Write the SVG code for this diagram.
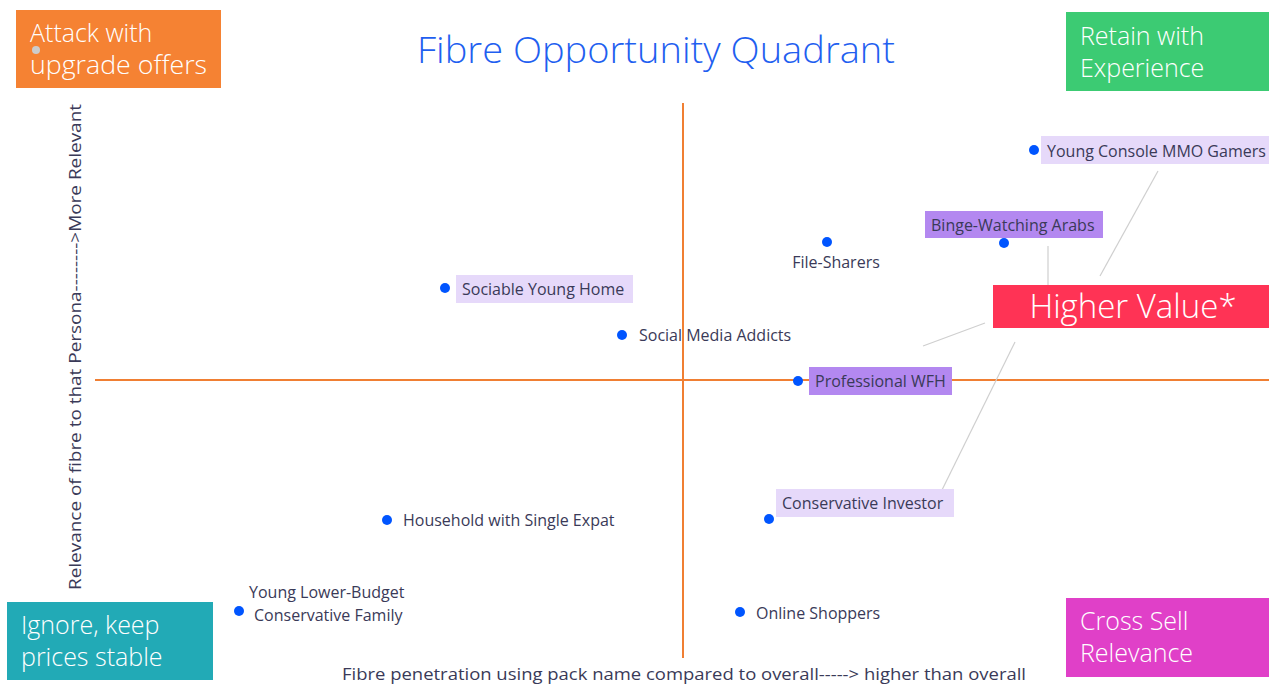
<svg xmlns="http://www.w3.org/2000/svg" width="1269" height="684" viewBox="0 0 1269 684">
<style>
text{font-family:"Open Sans","Noto Sans","Liberation Sans",sans-serif;}
.q{fill:#fff;font-size:25px;font-weight:300;}
.lbl{fill:#3a3a58;font-size:16px;}
.dot{fill:#0055ff;}
.ax{stroke:#f07f33;stroke-width:2;fill:none;}
.cn{stroke:#cfcfcf;stroke-width:1.2;fill:none;}
.pale{fill:#e6d9fa;}
.vio{fill:#b388f0;}
</style>
<rect width="1269" height="684" fill="#fff"/>
<g id="axes">
<line class="ax" x1="95" y1="380" x2="1269" y2="380"/>
<line class="ax" x1="683" y1="103" x2="683" y2="658"/>
</g>
<g id="title"><text x="656" y="63" text-anchor="middle" font-size="37" font-weight="300" fill="#1f5ff0" textLength="478" lengthAdjust="spacingAndGlyphs">Fibre Opportunity Quadrant</text></g>
<g id="q-attack">
<rect x="16" y="10" width="205" height="78" fill="#f58233"/>
<text class="q" x="30" y="42">Attack with</text>
<text class="q" x="30" y="74" textLength="177" lengthAdjust="spacingAndGlyphs">upgrade offers</text>
<circle cx="36" cy="50" r="4" fill="#cccccc"/>
</g>
<g id="q-retain">
<rect x="1066" y="12" width="203" height="79" fill="#3ccb73"/>
<text class="q" x="1080" y="45">Retain with</text>
<text class="q" x="1080" y="77">Experience</text>
</g>
<g id="q-ignore">
<rect x="7" y="602" width="206" height="78" fill="#22aab6"/>
<text class="q" x="21" y="634">Ignore, keep</text>
<text class="q" x="21" y="666">prices stable</text>
</g>
<g id="q-cross">
<rect x="1066" y="598" width="203" height="79" fill="#e040c8"/>
<text class="q" x="1080" y="630">Cross Sell</text>
<text class="q" x="1080" y="662">Relevance</text>
</g>
<g id="connectors">
<line class="cn" x1="1100" y1="276" x2="1158" y2="171"/>
<line class="cn" x1="1048" y1="285" x2="1048" y2="246"/>
<line class="cn" x1="923" y1="346" x2="985" y2="323"/>
<line class="cn" x1="941" y1="492" x2="1015" y2="342"/>
</g>
<g id="higher-value">
<rect x="993" y="285" width="276" height="43" fill="#ff3355"/>
<text x="1133" y="318" text-anchor="middle" font-size="33" font-weight="300" fill="#fff">Higher Value*</text>
</g>
<g id="young-console">
<circle class="dot" cx="1034" cy="150" r="5"/>
<rect class="pale" x="1041" y="136" width="228" height="28"/>
<text class="lbl" x="1047" y="157">Young Console MMO Gamers</text>
</g>
<g id="binge">
<circle class="dot" cx="1004" cy="243" r="5"/>
<rect class="vio" x="925" y="211" width="178" height="27"/>
<text class="lbl" x="931" y="231">Binge-Watching Arabs</text>
</g>
<g id="file-sharers">
<circle class="dot" cx="827" cy="242" r="5"/>
<text class="lbl" x="836" y="268" text-anchor="middle">File-Sharers</text>
</g>
<g id="sociable">
<circle class="dot" cx="445" cy="288" r="5"/>
<rect class="pale" x="456" y="275" width="177" height="28"/>
<text class="lbl" x="462" y="295">Sociable Young Home</text>
</g>
<g id="social-media">
<circle class="dot" cx="622" cy="335" r="5"/>
<text class="lbl" x="639" y="341">Social Media Addicts</text>
</g>
<g id="professional">
<circle class="dot" cx="798" cy="381" r="5"/>
<rect class="vio" x="809" y="367" width="143" height="28"/>
<text class="lbl" x="815" y="387">Professional WFH</text>
</g>
<g id="conservative-investor">
<circle class="dot" cx="769" cy="519" r="5"/>
<rect class="pale" x="776" y="489" width="178" height="28"/>
<text class="lbl" x="782" y="509">Conservative Investor</text>
</g>
<g id="household">
<circle class="dot" cx="387" cy="520" r="5"/>
<text class="lbl" x="403" y="526">Household with Single Expat</text>
</g>
<g id="young-lower">
<circle class="dot" cx="239" cy="611" r="5"/>
<text class="lbl" x="249" y="598">Young Lower-Budget</text>
<text class="lbl" x="254" y="621">Conservative Family</text>
</g>
<g id="online-shoppers">
<circle class="dot" cx="740" cy="612" r="5"/>
<text class="lbl" x="756" y="619">Online Shoppers</text>
</g>
<g id="axis-labels">
<text class="lbl" x="342" y="680" font-size="18" textLength="684" lengthAdjust="spacingAndGlyphs">Fibre penetration using pack name compared to overall-----&gt; higher than overall</text>
<text class="lbl" transform="translate(81,590) rotate(-90)" font-size="18" textLength="486" lengthAdjust="spacingAndGlyphs">Relevance of fibre to that Persona--------&gt;More Relevant</text>
</g>
</svg>
